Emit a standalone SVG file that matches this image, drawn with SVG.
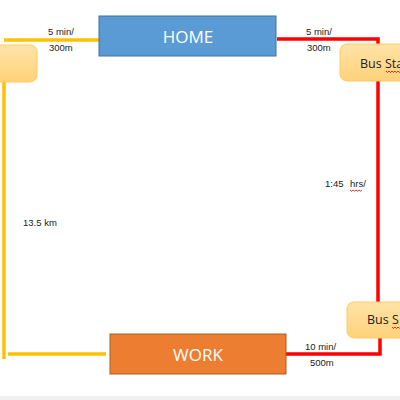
<svg xmlns="http://www.w3.org/2000/svg" width="400" height="400" viewBox="0 0 400 400">
<defs>
<linearGradient id="bg" x1="0" y1="0" x2="0" y2="1">
<stop offset="0" stop-color="#FFE3A8"/>
<stop offset="1" stop-color="#FFD27A"/>
</linearGradient>
</defs>
<style>
.lbl{font-family:"Liberation Sans",Arial,sans-serif;font-size:9.5px;fill:#222}
.big{font-family:"Open Sans","Liberation Sans",sans-serif;font-size:17px;fill:#fff;text-anchor:middle}
.bus{font-family:"Open Sans","Liberation Sans",sans-serif;font-size:12.5px;fill:#222}
.y{stroke:#FFC000;stroke-width:3.5;fill:none}
.r{stroke:#FF0000;stroke-width:3.5;fill:none}
.stop{fill:url(#bg);stroke:#FFCB5C;stroke-width:1}
.sq{stroke:#E00000;stroke-width:0.8;fill:none}
</style>
<rect width="400" height="400" fill="#fff"/>
<rect y="396" width="400" height="4" fill="#F0F0F0"/>
<g id="connectors">
<polyline class="y" points="99,40 4,40"/>
<polyline class="y" points="4,82 4,359"/>
<polyline class="y" points="8,354 106,354"/>
<polyline class="r" points="277,39 378,39 378,44"/>
<polyline class="r" points="378,81 378,302"/>
<polyline class="r" points="380,338 380,354 286,354"/>
</g>
<g id="home">
<rect x="99" y="16" width="177" height="40" fill="#5B9BD5" stroke="#41719C" stroke-width="1"/>
<text class="big" x="188" y="43">HOME</text>
</g>
<g id="work">
<rect x="110" y="334" width="176" height="40" fill="#ED7D31" stroke="#AE5A21" stroke-width="1"/>
<text class="big" x="198" y="361">WORK</text>
</g>
<g id="start">
<rect class="stop" x="-10" y="45" width="47" height="37" rx="7"/>
</g>
<g id="busstop1">
<rect class="stop" x="340" y="44" width="75" height="37" rx="7"/>
<text class="bus" x="360" y="68">Bus Sta</text>
<path class="sq" d="M386,71 l1.5,1.5 l1.5,-1.5 l1.5,1.5 l1.5,-1.5 l1.5,1.5 l1.5,-1.5 l1.5,1.5 l1.5,-1.5 l1.5,1.5 l1.5,-1.5"/>
</g>
<g id="busstop2">
<rect class="stop" x="347" y="302" width="68" height="36" rx="7"/>
<text class="bus" x="367" y="324">Bus S</text>
<path class="sq" d="M392,327 l1.5,1.5 l1.5,-1.5 l1.5,1.5 l1.5,-1.5 l1.5,1.5"/>
</g>
<g id="labels">
<text class="lbl" x="48" y="35">5 min/</text>
<text class="lbl" x="49" y="51">300m</text>
<text class="lbl" x="306" y="35">5 min/</text>
<text class="lbl" x="307" y="51">300m</text>
<text class="lbl" x="325" y="187">1:45 <tspan x="350">hrs/</tspan></text>
<path class="sq" d="M350,190 l1.5,1.2 l1.5,-1.2 l1.5,1.2 l1.5,-1.2 l1.5,1.2 l1.5,-1.2 l1.5,1.2 l1.5,-1.2"/>
<text class="lbl" x="23" y="226">13.5 km</text>
<text class="lbl" x="305" y="350">10 min/</text>
<text class="lbl" x="310" y="366">500m</text>
</g>
</svg>
